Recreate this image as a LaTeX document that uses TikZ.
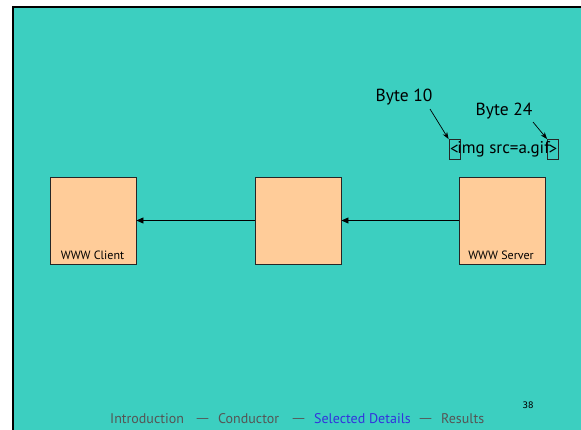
\documentclass[tikz,border=0pt]{standalone}
\usepackage{fontspec}
\setmainfont{PT Sans}
\newfontfamily\numfont{DejaVu Sans Mono}
\newfontfamily\dashfont{DejaVu Sans}
\usetikzlibrary{arrows.meta}
\definecolor{slidebg}{HTML}{3CCFC0}
\definecolor{boxfill}{HTML}{FFCC99}
\definecolor{navgray}{HTML}{555555}
\definecolor{navblue}{HTML}{3333DD}
\tikzset{
  hostbox/.style={draw=black!85, fill=boxfill, line width=0.9pt, minimum width=86pt, minimum height=87pt, inner sep=0pt},
  hostlabel/.style={font=\fontsize{12}{13}\selectfont, inner sep=0pt},
  flow/.style={-{Triangle[length=7pt,width=6pt]}, line width=0.9pt},
  pointer/.style={-{Stealth[length=7pt,width=5pt]}, line width=0.7pt},
  bytelabel/.style={font=\fontsize{17.5}{19}\selectfont, inner sep=0pt},
  brackbox/.style={draw=black!85, line width=0.8pt, minimum width=11pt, minimum height=20pt, inner sep=0pt, font=\fontsize{17}{19}\selectfont},
  navitem/.style={font=\fontsize{14}{16}\selectfont, inner sep=0pt, anchor=base west, text=navgray},
  navdash/.style={font=\dashfont\fontsize{13}{16}\selectfont, inner sep=0pt, anchor=base west, text=navgray}
}
\begin{document}
\begin{tikzpicture}[x=1pt, y=-1pt]
  \useasboundingbox (0,0) rectangle (581,430);
  % slide background and frame
  \fill[white] (0,0) rectangle (581,430);
  \fill[slidebg] (13,7) rectangle (581,430);
  \draw[black, line width=2pt] (13,440) -- (13,7) -- (590,7);

  % hosts
  \node[hostbox] (client) at (93,220.5) {};
  \node[hostbox] (proxy)  at (298,220.5) {};
  \node[hostbox] (server) at (502.5,220.5) {};
  \node[hostlabel] (clientlbl) at (92.5,255) {WWW Client};
  \node[hostlabel] (serverlbl) at (501,255) {WWW Server};

  % data flow
  \draw[flow] (server.west) -- (proxy.east);
  \draw[flow] (proxy.west) -- (client.east);

  % request string with its first and last byte boxed
  \node[brackbox] (lt) at (454.5,149.5) {<};
  \node[brackbox] (gt) at (553,149.5) {>};
  \node[inner sep=0pt, font=\fontsize{17}{19}\selectfont] (tag) at (503.5,149) {img src=a.gif};

  % byte annotations
  \node[bytelabel] (b10) at (404,97) {Byte 10};
  \node[bytelabel] (b24) at (504,111) {Byte 24};
  \coordinate (b10tail) at (430,109);
  \coordinate (b24tail) at (533,122);
  \draw[pointer] (b10tail) -- (lt.north west);
  \draw[pointer] (b24tail) -- (gt.north west);

  % navigation footer
  \node[navitem] (n1) at (110,423) {Introduction};
  \node[navdash] (d1) at (196,422) {—};
  \node[navitem] (n2) at (218,423) {Conductor};
  \node[navdash] (d2) at (292,422) {—};
  \node[navitem, text=navblue] (n3) at (314,423) {Selected Details};
  \node[navdash] (d3) at (419,422) {—};
  \node[navitem] (n4) at (441,423) {Results};
  \node[inner sep=0pt, font=\numfont\fontsize{9}{10}\selectfont] (pg) at (528,405) {38};
\end{tikzpicture}
\end{document}
